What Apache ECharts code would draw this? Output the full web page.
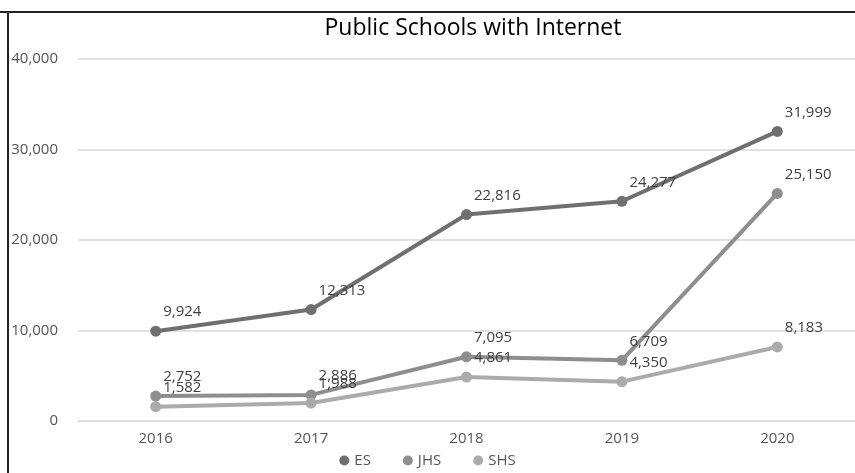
<!DOCTYPE html>
<html>
<head>
<meta charset="utf-8">
<script src="https://cdn.jsdelivr.net/npm/echarts@6/dist/echarts.min.js"></script>
<style>
html,body{margin:0;padding:0;background:#fff;}
#main{width:855px;height:473px;}
</style>
</head>
<body>
<div id="main"></div>
<script>
// 年份
var years = ['2016', '2017', '2018', '2019', '2020'];
// 各学段数据
var esData = [9924, 12313, 22816, 24277, 31999];
var jhsData = [2752, 2886, 7095, 6709, 25150];
var shsData = [1582, 1988, 4861, 4350, 8183];
var seriesNames = ['ES', 'JHS', 'SHS'];
var colorList = ['#6f6f6f', '#8e8e8e', '#ababab'];

var myChart = echarts.init(document.getElementById('main'));

function makeSeries(name, data, color) {
	return {
		name: name,
		type: 'line',
		data: data,
		symbol: 'circle',
		symbolSize: 11,
		lineStyle: { width: 4, color: color },
		itemStyle: { color: color },
		label: {
			show: true,
			position: 'right',
			distance: 2,
			offset: [0, -19],
			color: '#404040',
			fontSize: 15,
			fontFamily: 'Open Sans',
			formatter: function(p) { return p.value.toLocaleString('en-US'); }
		}
	};
}

var option = {
	animation: false,
	backgroundColor: '#fff',
	title: {
		text: 'Public Schools with Internet',
		left: 468,
		textAlign: 'center',
		top: 12,
		textStyle: { color: '#000', fontSize: 23, fontWeight: 'normal', fontFamily: 'Open Sans' }
	},
	legend: {
		data: seriesNames,
		bottom: 0,
		left: 'center',
		icon: 'circle',
		itemWidth: 10,
		itemHeight: 10,
		itemGap: 32,
		textStyle: { color: '#555', fontSize: 15, fontFamily: 'Open Sans' }
	},
	grid: { left: 78, right: -3, top: 59, bottom: 52, containLabel: false },
	xAxis: {
		type: 'category',
		data: years,
		boundaryGap: true,
		axisLine: { lineStyle: { color: '#d9d9d9' } },
		axisTick: { show: false },
		axisLabel: { color: '#555', fontSize: 15, margin: 10, fontFamily: 'Open Sans' }
	},
	yAxis: {
		type: 'value',
		min: 0,
		max: 40000,
		interval: 10000,
		axisLine: { show: false },
		axisTick: { show: false },
		splitLine: { lineStyle: { color: '#d9d9d9', width: 1.5 } },
		axisLabel: {
			color: '#555', fontSize: 15, margin: 20, fontFamily: 'Open Sans',
			formatter: function(v) { return v.toLocaleString('en-US'); }
		}
	},
	graphic: [
		{ type: 'line', shape: { x1: 0, y1: 12, x2: 855, y2: 12 }, style: { stroke: '#222', lineWidth: 2 }, z: 100 },
		{ type: 'line', shape: { x1: 8, y1: 12, x2: 8, y2: 473 }, style: { stroke: '#222', lineWidth: 2 }, z: 100 }
	],
	series: [
		makeSeries('ES', esData, colorList[0]),
		makeSeries('JHS', jhsData, colorList[1]),
		makeSeries('SHS', shsData, colorList[2])
	]
};
myChart.setOption(option, true);
</script>
</body>
</html>
